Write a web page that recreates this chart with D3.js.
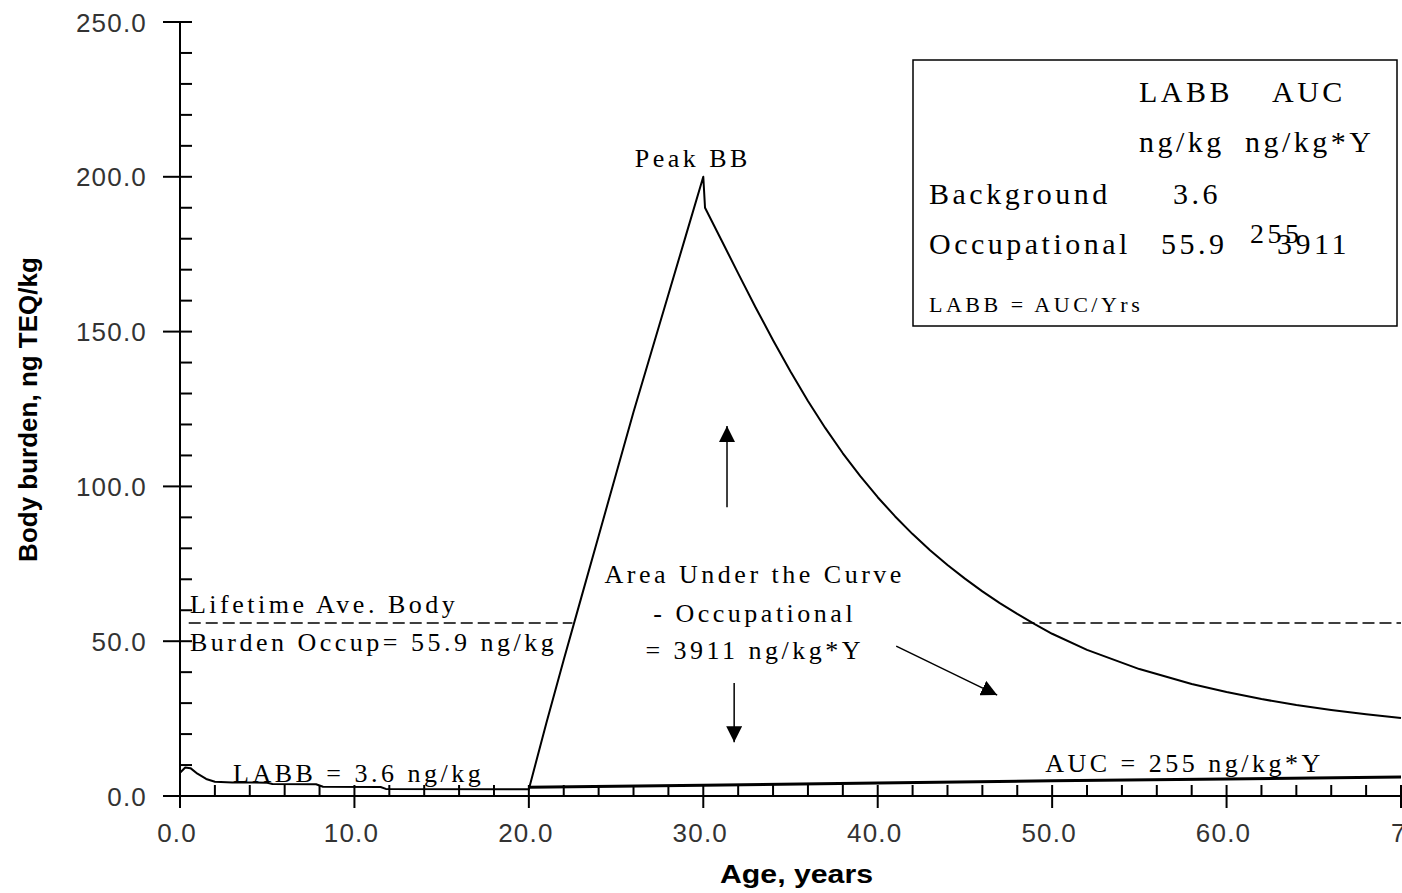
<!DOCTYPE html>
<html><head><meta charset="utf-8">
<script src="https://cdn.jsdelivr.net/npm/d3@7"></script>
<style>body{margin:0;background:#fff;overflow:hidden}</style>
</head><body><svg id="c" width="1402" height="893"></svg>
<script>
// ---- data ----
const occAge = [0, 0.3, 0.6, 1, 1.5, 2, 3, 5, 5.3, 7.8, 8.2, 11.5, 11.8, 20,
  21, 22, 23, 24, 25, 26, 27, 28, 29, 30, 30.1, 31, 32, 33, 34, 35, 36, 37, 38, 39, 40,
  41, 42, 43, 44, 45, 46, 47, 48, 49, 50, 52, 55, 58, 60, 62, 64, 66, 68, 70];
const occBB = [7.5, 9.2, 9.0, 7.2, 5.5, 4.6, 4.4, 4.3, 3.9, 3.8, 3.0, 2.9, 2.3, 2.2,
  23.5, 44, 64, 84, 104, 124, 143, 162, 181, 200, 190, 180, 168.8, 157.8, 147.2, 137.1, 127.6, 118.8, 110.7, 103.3, 96.5,
  90.3, 84.6, 79.4, 74.6, 70.2, 66.1, 62.3, 58.8, 55.5, 52.4, 47.2, 41.0, 36.2, 33.6, 31.3, 29.4, 27.8, 26.4, 25.2];
const bgAge = [20, 30, 40, 50, 60, 70];
const bgBB = [2.8, 3.5, 4.2, 4.9, 5.5, 6.1];
const labbOccup = 55.9;
const labbDashSegments = [[0.5, 22.5], [48.3, 70]];
const xTicks = [0, 10, 20, 30, 40, 50, 60, 70];
const yTicks = [0, 50, 100, 150, 200, 250];
const legendRows = ["Background", "Occupational"];
const legendLABB = ["3.6", "55.9"];
const legendAUC = ["255", "3911"];

// ---- scales ----
const svg = d3.select("#c");
const x = d3.scaleLinear().domain([0, 70]).range([180, 1401]);
const y = d3.scaleLinear().domain([0, 250]).range([796, 22]);

const serif = "'Liberation Serif','Times New Roman',serif";
const sans = "'Liberation Sans',Arial,sans-serif";

// ---- axes ----
const ax = svg.append("g").attr("stroke", "#000").attr("stroke-width", 2);
ax.append("line").attr("x1", x(0)).attr("x2", x(0)).attr("y1", y(250)).attr("y2", y(0));
ax.append("line").attr("x1", 163).attr("x2", x(70)).attr("y1", y(0)).attr("y2", y(0));
d3.range(0, 251, 10).forEach(v => {
  const major = v % 50 === 0;
  ax.append("line").attr("x1", major ? 163 : x(0)).attr("x2", 192)
    .attr("y1", y(v)).attr("y2", y(v));
});
d3.range(0, 71, 2).forEach(v => {
  const major = v % 10 === 0;
  ax.append("line").attr("x1", x(v)).attr("x2", x(v))
    .attr("y1", 785).attr("y2", major ? 808 : y(0));
});
// tick labels
svg.append("g").selectAll("text").data(yTicks).join("text")
  .attr("x", 147).attr("y", d => y(d) + 9.5).attr("text-anchor", "end")
  .attr("font-family", sans).attr("font-size", 26).attr("letter-spacing", 1.2).attr("fill", "#333")
  .text(d => d.toFixed(1));
svg.append("g").selectAll("text").data(xTicks).join("text")
  .attr("x", d => d === 70 ? x(d) - 10 : x(d) - 3).attr("y", 842)
  .attr("text-anchor", d => d === 70 ? "start" : "middle")
  .attr("font-family", sans).attr("font-size", 26).attr("letter-spacing", 1.2).attr("fill", "#333")
  .text(d => d.toFixed(1));
// axis titles
svg.append("text").attr("x", 720).attr("y", 883)
  .attr("font-family", sans).attr("font-weight", "bold").attr("font-size", 25)
  .attr("textLength", 153).attr("lengthAdjust", "spacingAndGlyphs")
  .text("Age, years");
svg.append("text").attr("transform", "translate(37,409.5) rotate(-90)")
  .attr("text-anchor", "middle")
  .attr("font-family", sans).attr("font-weight", "bold").attr("font-size", 26)
  .text("Body burden, ng TEQ/kg");

// ---- lines ----
const line = d3.line().x(d => x(d[0])).y(d => y(d[1]));
svg.append("path").datum(occAge.map((a, i) => [a, occBB[i]]))
  .attr("d", line).attr("fill", "none").attr("stroke", "#000").attr("stroke-width", 2)
  .attr("stroke-linejoin", "round");
svg.append("path").datum(bgAge.map((a, i) => [a, bgBB[i]]))
  .attr("d", line).attr("fill", "none").attr("stroke", "#000").attr("stroke-width", 3);
labbDashSegments.forEach(s => {
  svg.append("line").attr("x1", x(s[0])).attr("x2", x(s[1]))
    .attr("y1", y(labbOccup)).attr("y2", y(labbOccup))
    .attr("stroke", "#000").attr("stroke-width", 1.5).attr("stroke-dasharray", "12,5");
});

// ---- arrows ----
const defs = svg.append("defs");
defs.append("marker").attr("id", "ah").attr("viewBox", "0 0 16 16")
  .attr("refX", 16).attr("refY", 8).attr("markerWidth", 16).attr("markerHeight", 16)
  .attr("markerUnits", "userSpaceOnUse").attr("orient", "auto")
  .append("path").attr("d", "M0,0 L16,8 L0,16 Z").attr("fill", "#000");
const arrows = [
  [[31.36, 93.3], [31.36, 119.5]],
  [[31.77, 36.5], [31.77, 17.4]],
  [[41.06, 48.4], [46.85, 32.6]]
];
arrows.forEach(a => {
  svg.append("line").attr("x1", x(a[0][0])).attr("y1", y(a[0][1]))
    .attr("x2", x(a[1][0])).attr("y2", y(a[1][1]))
    .attr("stroke", "#000").attr("stroke-width", 1.5).attr("marker-end", "url(#ah)");
});

// ---- annotations ----
function ann(txt, ax_, ay, anchor, size) {
  svg.append("text").attr("x", x(ax_)).attr("y", y(ay)).attr("text-anchor", anchor || "start")
    .attr("font-family", serif).attr("font-size", size || 26).attr("letter-spacing", 3.5)
    .text(txt);
}
ann("Peak BB", 29.4, 203.2, "middle");
ann("Lifetime Ave. Body", 0.57, 59.1);
ann("Burden Occup= 55.9 ng/kg", 0.57, 46.8);
ann("LABB = 3.6 ng/kg", 3.04, 4.5);
ann("AUC = 255 ng/kg*Y", 49.6, 7.75);
ann("Area Under the Curve", 32.95, 68.8, "middle");
ann("- Occupational", 32.95, 56.2, "middle");
ann("= 3911 ng/kg*Y", 32.95, 44.25, "middle");

// ---- legend box ----
const lg = svg.append("g");
lg.append("rect").attr("x", 913).attr("y", 60).attr("width", 484).attr("height", 266)
  .attr("fill", "#fff").attr("stroke", "#000").attr("stroke-width", 1.5);
function lt(txt, px, py, size) {
  lg.append("text").attr("x", px).attr("y", py).attr("font-family", serif)
    .attr("font-size", size || 30).attr("letter-spacing", 3.5).text(txt);
}
lt("LABB", 1139, 102);
lt("AUC", 1272, 102);
lt("ng/kg", 1139, 152);
lt("ng/kg*Y", 1245, 152);
lt(legendRows[0], 929, 204);
lt(legendLABB[0], 1173, 204);
lt(legendRows[1], 929, 254);
lt(legendLABB[1], 1161, 254);
lt(legendAUC[0], 1250, 243, 28);
lt(legendAUC[1], 1277, 254);
lt("LABB = AUC/Yrs", 929, 312, 22);
</script></body></html>
